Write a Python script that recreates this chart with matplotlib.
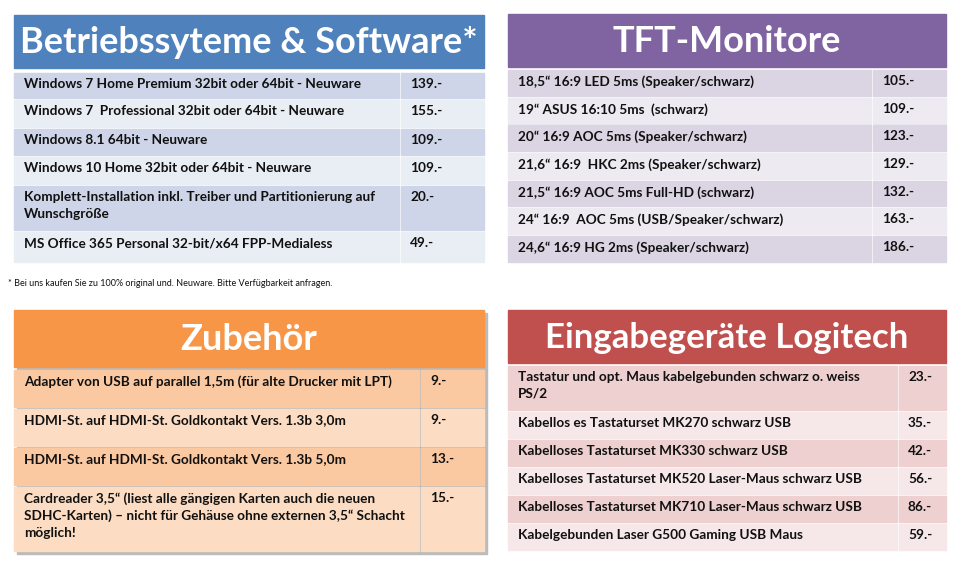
import matplotlib.pyplot as plt
from matplotlib.patches import Rectangle

plt.rcParams['font.family'] = ['Lato', 'DejaVu Sans']

# data
sw_items = ["Windows 7 Home Premium 32bit oder 64bit - Neuware",
            "Windows 7  Professional 32bit oder 64bit - Neuware",
            "Windows 8.1 64bit - Neuware",
            "Windows 10 Home 32bit oder 64bit - Neuware",
            "Komplett-Installation inkl. Treiber und Partitionierung auf\nWunschgröße",
            "MS Office 365 Personal 32-bit/x64 FPP-Medialess"]
sw_prices = ["139.-", "155.-", "109.-", "109.-", "20.-", "49.-"]

tft_items = ["18,5\u201c 16:9 LED 5ms (Speaker/schwarz)",
             "19\u201c ASUS 16:10 5ms  (schwarz)",
             "20\u201c 16:9 AOC 5ms (Speaker/schwarz)",
             "21,6\u201c 16:9  HKC 2ms (Speaker/schwarz)",
             "21,5\u201c 16:9 AOC 5ms Full-HD (schwarz)",
             "24\u201c 16:9  AOC 5ms (USB/Speaker/schwarz)",
             "24,6\u201c 16:9 HG 2ms (Speaker/schwarz)"]
tft_prices = ["105.-", "109.-", "123.-", "129.-", "132.-", "163.-", "186.-"]

acc_items = ["Adapter von USB auf parallel 1,5m (für alte Drucker mit LPT)",
             "HDMI-St. auf HDMI-St. Goldkontakt Vers. 1.3b 3,0m",
             "HDMI-St. auf HDMI-St. Goldkontakt Vers. 1.3b 5,0m",
             "Cardreader 3,5\u201c (liest alle gängigen Karten auch die neuen\nSDHC-Karten) \u2013 nicht für Gehäuse ohne externen 3,5\u201c Schacht\nmöglich!"]
acc_prices = ["9.-", "9.-", "13.-", "15.-"]

inp_items = ["Tastatur und opt. Maus kabelgebunden schwarz o. weiss\nPS/2",
             "Kabellos es Tastaturset MK270 schwarz USB",
             "Kabelloses Tastaturset MK330 schwarz USB",
             "Kabelloses Tastaturset MK520 Laser-Maus schwarz USB",
             "Kabelloses Tastaturset MK710 Laser-Maus schwarz USB",
             "Kabelgebunden Laser G500 Gaming USB Maus"]
inp_prices = ["23.-", "35.-", "42.-", "56.-", "86.-", "59.-"]

footnote = "* Bei uns kaufen Sie zu 100% original und. Neuware. Bitte Verfügbarkeit anfragen."

fig = plt.figure(figsize=(9.6, 5.68), dpi=100)
ax = fig.add_axes([0, 0, 1, 1])
ax.set_xlim(0, 960)
ax.set_ylim(568, 0)
ax.axis('off')


def panel(x0, x1, hy0, hy1, title, tsize, hcol, split, rows, items, prices, cols, shadow=False):
    if shadow:
        ax.add_patch(Rectangle((x0 + 3, hy0 + 3), x1 - x0, rows[-1][1] - hy0, color='#bbbbbb', zorder=0))
    ax.add_patch(Rectangle((x0, hy0), x1 - x0, hy1 - hy0, color=hcol, zorder=1))
    ax.text((x0 + x1) / 2, (hy0 + hy1) / 2 + 1, title, color='white', fontsize=tsize,
            fontweight='bold', ha='center', va='center', zorder=3)
    for i, ((ry0, ry1), name, price) in enumerate(zip(rows, items, prices)):
        c = cols[i % 2]
        ax.add_patch(Rectangle((x0, ry0), split - x0 - 1, ry1 - ry0, color=c, zorder=1))
        ax.add_patch(Rectangle((split + 1, ry0), x1 - split - 1, ry1 - ry0, color=c, zorder=1))
        ax.text(x0 + 10, ry0 + 5, name, fontsize=9.8, fontweight='bold', color='#111111',
                va='top', ha='left', linespacing=1.45, zorder=3)
        ax.text(split + 10, ry0 + 5, price, fontsize=9.8, fontweight='bold', color='#111111',
                va='top', ha='left', zorder=3)


panel(14, 484, 15, 68, "Betriebssyteme & Software*", 26, '#4F81BD', 400,
      [(73, 98), (100, 127), (129, 155), (157, 184), (186, 230), (232, 262)],
      sw_items, sw_prices, ['#CFD5E8', '#E9EDF4'])
panel(508, 946, 14, 67, "TFT-Monitore", 26, '#8064A2', 872,
      [(70, 96), (98, 124), (125, 151), (153, 179), (181, 206), (208, 234), (236, 262)],
      tft_items, tft_prices, ['#DAD4E3', '#EDEAF1'])
panel(14, 484, 310, 367, "Zubehör", 26, '#F79646', 420,
      [(370, 407), (409, 446), (448, 485), (487, 551)],
      acc_items, acc_prices, ['#FAC9A1', '#FCDDC3'], shadow=True)
panel(508, 946, 310, 363, "Eingabegeräte Logitech", 25, '#C0504D', 898,
      [(366, 410), (412, 438), (440, 466), (468, 494), (496, 522), (524, 550)],
      inp_items, inp_prices, ['#EDD0CF', '#F6E8E8'])

ax.text(8, 283, footnote, fontsize=6.5, color='#111111', va='center', ha='left')

fig.savefig('out.png', dpi=100)
